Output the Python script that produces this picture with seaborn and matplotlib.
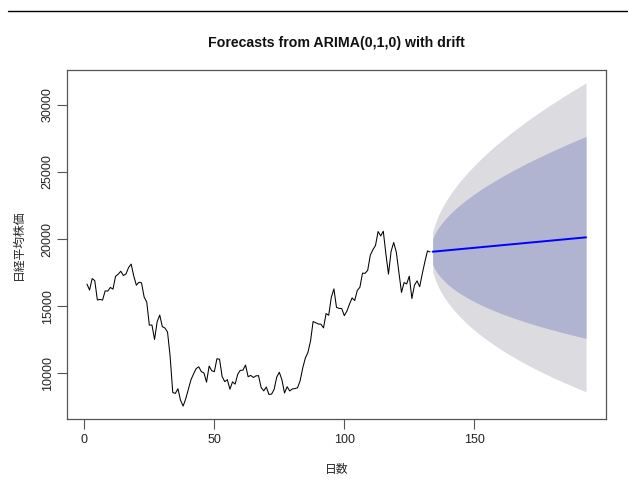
import numpy as np
import pandas as pd
import matplotlib
matplotlib.use("Agg")
import matplotlib.pyplot as plt
from matplotlib.lines import Line2D
import seaborn as sns

# Observed monthly values (index 1..133)
observed = [
    16650, 16205, 17060, 16906, 15467, 15505, 15457, 16141, 16128, 16399, 16274, 17226,
    17383, 17604, 17288, 17400, 17876, 18138, 17249, 16569, 16786, 16738, 15681, 15308,
    13592, 13603, 12526, 13850, 14339, 13481, 13377, 13073, 11260, 8577, 8512, 8860,
    7994, 7568, 8110, 8828, 9523, 9958, 10357, 10493, 10133, 10035, 9346, 10546,
    10198, 10126, 11090, 11057, 9769, 9383, 9537, 8824, 9369, 9202, 9937, 10229,
    10238, 10624, 9755, 9850, 9694, 9816, 9833, 8955, 8700, 8988, 8435, 8455,
    8803, 9723, 10084, 9521, 8543, 9007, 8695, 8840, 8870, 8928, 9446, 10395,
    11139, 11559, 12398, 13861, 13775, 13677, 13668, 13389, 14456, 14328, 15662, 16291,
    14915, 14841, 14828, 14304, 14632, 15162, 15621, 15425, 16174, 16414, 17460, 17451,
    17674, 18798, 19207, 19520, 20563, 20236, 20585, 18890, 17388, 19083, 19747, 19034,
    17518, 16027, 16759, 16666, 17235, 15576, 16569, 16887, 16450, 17425, 18308, 19114,
    19041,
]

# Forecast mean (index 134..193)
fc_mean = [
    19059, 19078, 19096, 19114, 19132, 19150, 19168, 19186, 19204, 19223,
    19241, 19259, 19277, 19295, 19313, 19331, 19349, 19367, 19386, 19404,
    19422, 19440, 19458, 19476, 19494, 19512, 19531, 19549, 19567, 19585,
    19603, 19621, 19639, 19657, 19675, 19694, 19712, 19730, 19748, 19766,
    19784, 19802, 19820, 19838, 19857, 19875, 19893, 19911, 19929, 19947,
    19965, 19983, 20002, 20020, 20038, 20056, 20074, 20092, 20110, 20128,
]

# Half-widths of the 80% interval
hw80 = [
    970, 1372, 1680, 1940, 2169, 2376, 2567, 2743, 2910, 3067,
    3217, 3360, 3498, 3630, 3757, 3880, 3999, 4116, 4228, 4338,
    4446, 4549, 4652, 4752, 4850, 4946, 5040, 5133, 5223, 5313,
    5401, 5487, 5573, 5656, 5739, 5820, 5901, 5979, 6058, 6135,
    6211, 6287, 6360, 6434, 6507, 6579, 6650, 6720, 6790, 6859,
    6927, 6995, 7062, 7128, 7194, 7259, 7324, 7388, 7451, 7514,
]

# Half-widths of the 95% interval
hw95 = [
    1484, 2098, 2570, 2968, 3318, 3634, 3927, 4197, 4452, 4692,
    4922, 5141, 5351, 5553, 5748, 5936, 6119, 6297, 6469, 6636,
    6801, 6960, 7117, 7270, 7420, 7567, 7711, 7853, 7991, 8128,
    8263, 8395, 8526, 8653, 8779, 8904, 9027, 9147, 9268, 9386,
    9502, 9618, 9731, 9843, 9955, 10065, 10174, 10281, 10388, 10493,
    10597, 10701, 10804, 10904, 11005, 11105, 11204, 11302, 11399, 11495,
]

x_ticks = [0, 50, 100, 150]
y_ticks = [10000, 15000, 20000, 25000, 30000]

title = "Forecasts from ARIMA(0,1,0) with drift"
xlabel = "日数"
ylabel = "日経平均株価"

sns.set_style("white")
plt.rcParams["font.family"] = ["Liberation Sans", "Noto Sans CJK JP", "DejaVu Sans"]

n = len(observed)
obs_df = pd.DataFrame({"t": np.arange(1, n + 1), "v": observed})
fc_df = pd.DataFrame({"t": np.arange(n + 1, n + 1 + len(fc_mean)), "v": fc_mean})
m = np.array(fc_mean, float)
lo80, hi80 = m - np.array(hw80), m + np.array(hw80)
lo95, hi95 = m - np.array(hw95), m + np.array(hw95)

fig = plt.figure(figsize=(6.28, 4.88), dpi=100)
ax = fig.add_axes([67 / 628, 1 - 419 / 488, (606 - 67) / 628, (419 - 70) / 488])

ax.fill_between(fc_df["t"], lo95, hi95, color="#DBDBE0", linewidth=0)
ax.fill_between(fc_df["t"], lo80, hi80, color="#B0B4D0", linewidth=0)
sns.lineplot(data=obs_df, x="t", y="v", ax=ax, color="black", linewidth=0.75)
sns.lineplot(data=fc_df, x="t", y="v", ax=ax, color="#0000FF", linewidth=1.4)

# R-style 4% axis extension
xmin, xmax = 1, n + len(fc_mean)
ymin, ymax = min(min(observed), lo95.min()), max(max(observed), hi95.max())
dx, dy = 0.04 * (xmax - xmin), 0.04 * (ymax - ymin)
ax.set_xlim(xmin - dx, xmax + dx)
ax.set_ylim(ymin - dy, ymax + dy)

ax.set_xticks(x_ticks)
ax.set_yticks(y_ticks)
ax.set_xticklabels([str(v) for v in x_ticks])
ax.set_yticklabels([str(v) for v in y_ticks], rotation=90, va="center")
ax.tick_params(axis="both", which="major", bottom=True, left=True, top=False, right=False,
               direction="out", length=7, width=0.8, color="#555555",
               labelsize=9, labelcolor="#222222")
ax.tick_params(axis="y", pad=2.5)
ax.tick_params(axis="x", pad=3.5)
for s in ax.spines.values():
    s.set_visible(True)
    s.set_color("#555555")
    s.set_linewidth(0.9)

ax.set_xlabel("")
ax.set_ylabel("")
fig.text(336.5 / 628, 1 - 43 / 488, title, ha="center", va="center",
         fontsize=10.2, fontweight="bold", color="#111111")
fig.text(336.5 / 628, 1 - 470 / 488, xlabel, ha="center", va="center",
         fontsize=8.5, color="#222222")
fig.text(19 / 628, 1 - 245 / 488, ylabel, ha="center", va="center",
         fontsize=8.5, rotation=90, color="#222222")

fig.add_artist(Line2D([8 / 628, 1.0], [1 - 11 / 488, 1 - 11 / 488],
                      transform=fig.transFigure, color="black", linewidth=1.0))

fig.savefig("out.png", dpi=100, facecolor="white")
